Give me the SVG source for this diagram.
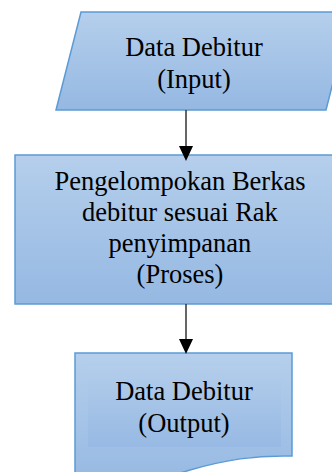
<svg xmlns="http://www.w3.org/2000/svg" width="332" height="472" viewBox="0 0 332 472">
<defs>
<linearGradient id="g" x1="0" y1="0" x2="0" y2="1">
<stop offset="0" stop-color="#b5cfec"/>
<stop offset="1" stop-color="#95b8e2"/>
</linearGradient>
<linearGradient id="g2" x1="0" y1="0" x2="0" y2="1">
<stop offset="0" stop-color="#b3cdeb"/>
<stop offset="1" stop-color="#97b9e3"/>
</linearGradient>
<style>
.shape{fill:url(#g);stroke:#5b9bd5;stroke-width:1.5}
.t{font-family:"Liberation Serif","Times New Roman",serif;font-size:26.5px;fill:#000;text-anchor:middle}
.c{stroke:#333;stroke-width:1.5;fill:none}
.h{fill:#000}
</style>
</defs>
<g id="input">
<polygon class="shape" points="81,12 351,12 326,110 56,110"/>
<text class="t" x="194" y="56">Data Debitur</text>
<text class="t" x="194" y="88">(Input)</text>
</g>
<g id="proses">
<rect class="shape" x="15" y="155" width="350" height="149"/>
<text class="t" x="180" y="190">Pengelompokan Berkas</text>
<text class="t" x="180" y="221">debitur sesuai Rak</text>
<text class="t" x="180" y="252">penyimpanan</text>
<text class="t" x="180" y="283">(Proses)</text>
</g>
<g id="output">
<path class="shape" d="M75,353 H292 V456 C255,455 225,460 190,470 C150,482 110,490 75,488 Z"/>
<rect x="88" y="366" width="193" height="81" fill="url(#g2)"/>
<text class="t" x="184" y="400">Data Debitur</text>
<text class="t" x="184" y="432">(Output)</text>
</g>
<g id="connectors">
<line class="c" x1="186" y1="110" x2="186" y2="148"/>
<polygon class="h" points="179,146 193,146 186,161"/>
<line class="c" x1="186" y1="304" x2="186" y2="340"/>
<polygon class="h" points="179,339 193,339 186,354"/>
</g>
</svg>
